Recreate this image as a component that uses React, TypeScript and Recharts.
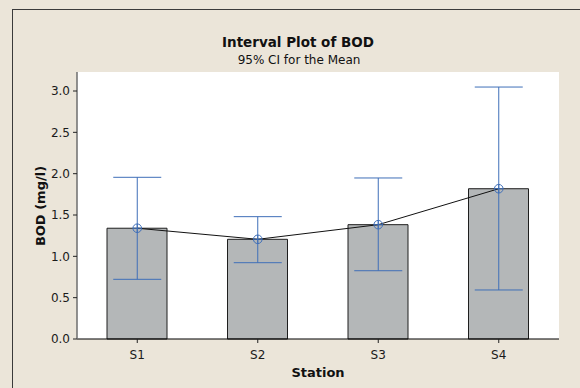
import { ComposedChart, Bar, Line, ErrorBar, XAxis, YAxis, CartesianGrid } from 'recharts'

const stations = ['S1', 'S2', 'S3', 'S4']
const means = [1.34, 1.206, 1.383, 1.818]
const ciLow = [0.722, 0.923, 0.826, 0.593]
const ciHigh = [1.956, 1.48, 1.948, 3.048]
const yTicks = [0, 0.5, 1, 1.5, 2, 2.5, 3]

const BLUE = '#3f6fb8'
const FONT = '"DejaVu Sans", Verdana, sans-serif'

const data = stations.map((s, i) => ({
  station: s,
  mean: means[i],
  ci: [means[i] - ciLow[i], ciHigh[i] - means[i]]
}))

// circle with a cross through it, like minitab's mean symbol
function MeanDot(props: any) {
  const { cx, cy } = props
  if (cx == null || cy == null) return null
  const r = 4.3
  return (
    <g>
      <circle cx={cx} cy={cy} r={r} fill="none" stroke={BLUE} strokeWidth={1} />
      <line x1={cx - r} y1={cy} x2={cx + r} y2={cy} stroke={BLUE} strokeWidth={1} />
      <line x1={cx} y1={cy - r} x2={cx} y2={cy + r} stroke={BLUE} strokeWidth={1} />
    </g>
  )
}

export default function App() {
  const tick = { fontSize: 12, fill: '#1a1a1a', fontFamily: FONT }
  return (
    <div
      style={{
        position: 'fixed',
        left: 0,
        top: 0,
        width: 580,
        height: 388,
        background: '#ebe5d9',
        overflow: 'hidden',
        fontFamily: FONT
      }}
    >
      <div
        style={{
          position: 'absolute',
          left: 12,
          top: 9,
          width: 640,
          height: 440,
          border: '1px solid #3a3a3a'
        }}
      />
      <div style={{ position: 'absolute', left: 0, top: 0 }}>
        <ComposedChart width={580} height={388} data={data} margin={{ top: 72, right: 21, bottom: 0, left: 0 }}>
          <CartesianGrid horizontal={false} vertical={false} fill="#ffffff" />
          <XAxis
            dataKey="station"
            height={49}
            tickSize={4}
            tickMargin={7}
            tick={tick}
            axisLine={{ stroke: '#000', strokeWidth: 1.2 }}
            tickLine={{ stroke: '#222' }}
          />
          <XAxis
            xAxisId="top"
            orientation="top"
            dataKey="station"
            height={0}
            tick={false}
            tickLine={false}
            axisLine={{ stroke: '#6e6e6e', strokeWidth: 1.5 }}
          />
          <YAxis
            width={77}
            domain={[0, 3.23]}
            ticks={yTicks}
            tickFormatter={(v: number) => v.toFixed(1)}
            tickSize={4}
            tickMargin={3}
            tick={tick}
            axisLine={{ stroke: '#6e6e6e', strokeWidth: 1.5 }}
            tickLine={{ stroke: '#222' }}
          />
          <YAxis
            yAxisId="right"
            orientation="right"
            width={0}
            tick={false}
            tickLine={false}
            axisLine={{ stroke: '#6e6e6e', strokeWidth: 1.5 }}
          />
          <Bar dataKey="mean" fill="#b4b7b8" stroke="#1e1e1e" strokeWidth={1} barSize={60} isAnimationActive={false} />
          <Line
            type="linear"
            dataKey="mean"
            stroke="#111"
            strokeWidth={1}
            dot={<MeanDot />}
            activeDot={false}
            isAnimationActive={false}
          >
            <ErrorBar dataKey="ci" width={24} stroke={BLUE} strokeWidth={1} direction="y" />
          </Line>
        </ComposedChart>
      </div>
      <svg width={580} height={388} style={{ position: 'absolute', left: 0, top: 0, pointerEvents: 'none' }}>
        <text x={298} y={46.5} textAnchor="middle" fontSize={13.5} fontWeight="bold" fill="#111" fontFamily={FONT}>
          Interval Plot of BOD
        </text>
        <text x={299} y={63.5} textAnchor="middle" fontSize={12} fill="#111" fontFamily={FONT}>
          95% CI for the Mean
        </text>
        <text
          x={0}
          y={0}
          transform="translate(45 206) rotate(-90)"
          textAnchor="middle"
          fontSize={13}
          fontWeight="bold"
          fill="#111"
          fontFamily={FONT}
        >
          BOD (mg/l)
        </text>
        <text x={318} y={377} textAnchor="middle" fontSize={13} fontWeight="bold" fill="#111" fontFamily={FONT}>
          Station
        </text>
      </svg>
    </div>
  )
}
